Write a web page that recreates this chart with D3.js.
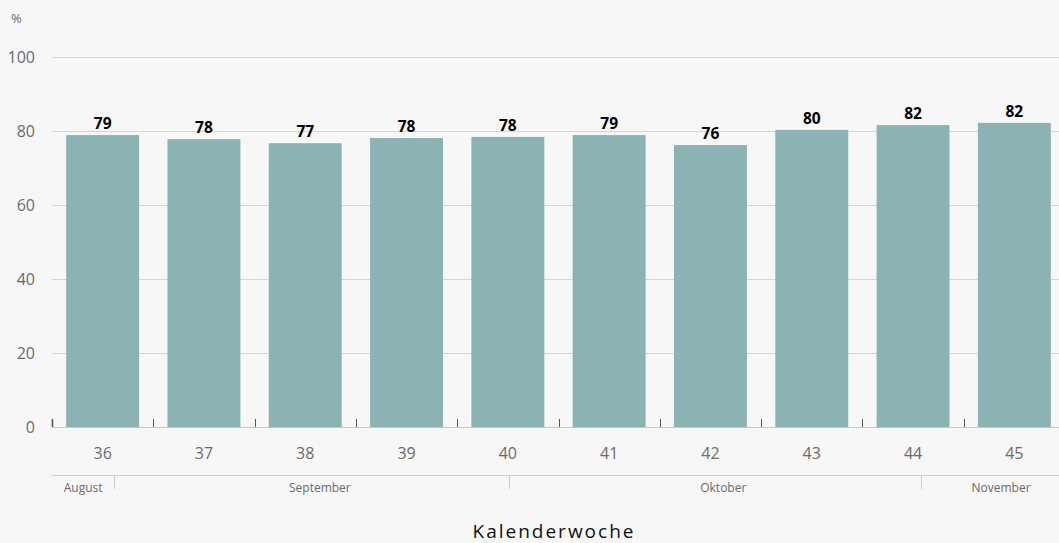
<!DOCTYPE html>
<html><head><meta charset="utf-8">
<script src="https://cdn.jsdelivr.net/npm/d3@7"></script>
<style>
html,body{margin:0;padding:0;background:#f7f7f7;}
svg{display:block;}
</style></head>
<body>
<svg id="chart" width="1059" height="543"></svg>
<script>
const weeks = ["36","37","38","39","40","41","42","43","44","45"];
const values = [78.9, 77.8, 76.7, 78.1, 78.4, 78.9, 76.2, 80.3, 81.6, 82.2];
const valueLabels = ["79","78","77","78","78","79","76","80","82","82"];
const yTicks = [0, 20, 40, 60, 80, 100];
const months = ["August", "September", "Oktober", "November"];
// month boundaries expressed in week-band units (index within the 10 weeks)
const monthBounds = [0, 0.615, 4.516, 8.58, 10];
const xTitle = "Kalenderwoche";
const yUnit = "%";

(function () {
const svg = d3.select("#chart");
const W = 1059, H = 543;
const mLeft = 52, mRight = 1065, mTop = 57, mBottom = 427;
const font = "'Open Sans', 'Noto Sans', sans-serif";

svg.append("rect").attr("width", W).attr("height", H).attr("fill", "#f7f7f7");

const x = d3.scaleBand().domain(weeks).range([mLeft, mRight]).paddingInner(0.28).paddingOuter(0.14);
const y = d3.scaleLinear().domain([0, 100]).range([mBottom, mTop]);
const xPos = d3.scaleLinear().domain([0, 10]).range([mLeft, mRight]);

// gridlines
svg.append("g").selectAll("line").data(yTicks.filter(d => d > 0)).join("line")
  .attr("x1", mLeft).attr("x2", W).attr("y1", d => y(d) + 0.5).attr("y2", d => y(d) + 0.5)
  .attr("stroke", "#d6d6d6").attr("stroke-width", 1);

// y labels
svg.append("g").selectAll("text").data(yTicks).join("text")
  .attr("x", 35).attr("y", d => y(d)).attr("dy", "0.35em")
  .attr("text-anchor", "end").attr("font-family", font).attr("font-size", 16)
  .attr("fill", "#6b6b6b").text(d => d);

svg.append("text").attr("x", 11).attr("y", 23).attr("font-family", font).attr("font-size", 13)
  .attr("fill", "#6b6b6b").text(yUnit);

// bars
svg.append("g").selectAll("rect").data(values).join("rect")
  .attr("x", (d, i) => x(weeks[i])).attr("width", x.bandwidth())
  .attr("y", d => y(d)).attr("height", d => y(0) - y(d))
  .attr("fill", "#8cb3b3");

// value labels
svg.append("g").selectAll("text").data(values).join("text")
  .attr("x", (d, i) => x(weeks[i]) + x.bandwidth() / 2).attr("y", d => y(d) - 6)
  .attr("text-anchor", "middle").attr("font-family", font).attr("font-weight", "bold")
  .attr("font-size", 15.5).attr("fill", "#000").text((d, i) => valueLabels[i]);

// baseline
svg.append("line").attr("x1", mLeft).attr("x2", W).attr("y1", mBottom + 0.5).attr("y2", mBottom + 0.5)
  .attr("stroke", "#c8c8c8").attr("stroke-width", 1);

// category ticks at band boundaries
svg.append("g").selectAll("line").data(d3.range(0, 10)).join("line")
  .attr("x1", d => Math.round(xPos(d)) + 0.5).attr("x2", d => Math.round(xPos(d)) + 0.5)
  .attr("y1", mBottom - 8).attr("y2", mBottom)
  .attr("stroke", "#555").attr("stroke-width", (d) => d === 0 ? 1.6 : 1);

// week labels
svg.append("g").selectAll("text").data(weeks).join("text")
  .attr("x", d => x(d) + x.bandwidth() / 2).attr("y", 453).attr("dy", "0.35em")
  .attr("text-anchor", "middle").attr("font-family", font).attr("font-size", 16)
  .attr("fill", "#6b6b6b").text(d => d);

// month axis
svg.append("line").attr("x1", mLeft).attr("x2", W).attr("y1", 475.5).attr("y2", 475.5)
  .attr("stroke", "#cfcfcf").attr("stroke-width", 1);
svg.append("g").selectAll("line").data(monthBounds.slice(1, -1)).join("line")
  .attr("x1", d => Math.round(xPos(d)) + 0.5).attr("x2", d => Math.round(xPos(d)) + 0.5)
  .attr("y1", 475).attr("y2", 489)
  .attr("stroke", "#cfcfcf").attr("stroke-width", 1);
svg.append("g").selectAll("text").data(months).join("text")
  .attr("x", (d, i) => {
    const a = xPos(monthBounds[i]), b = xPos(monthBounds[i + 1]);
    return (a + b) / 2 + (i === 0 ? 0 : 8);
  })
  .attr("y", 488).attr("dy", "0.35em")
  .attr("text-anchor", "middle").attr("font-family", font).attr("font-size", 12)
  .attr("fill", "#6b6b6b").text(d => d);

// x title
svg.append("text").attr("x", 554).attr("y", 531).attr("dy", "0.35em")
  .attr("text-anchor", "middle").attr("font-family", font).attr("font-size", 19)
  .attr("letter-spacing", 2).attr("fill", "#111").text(xTitle);
})();
</script>
</body></html>
